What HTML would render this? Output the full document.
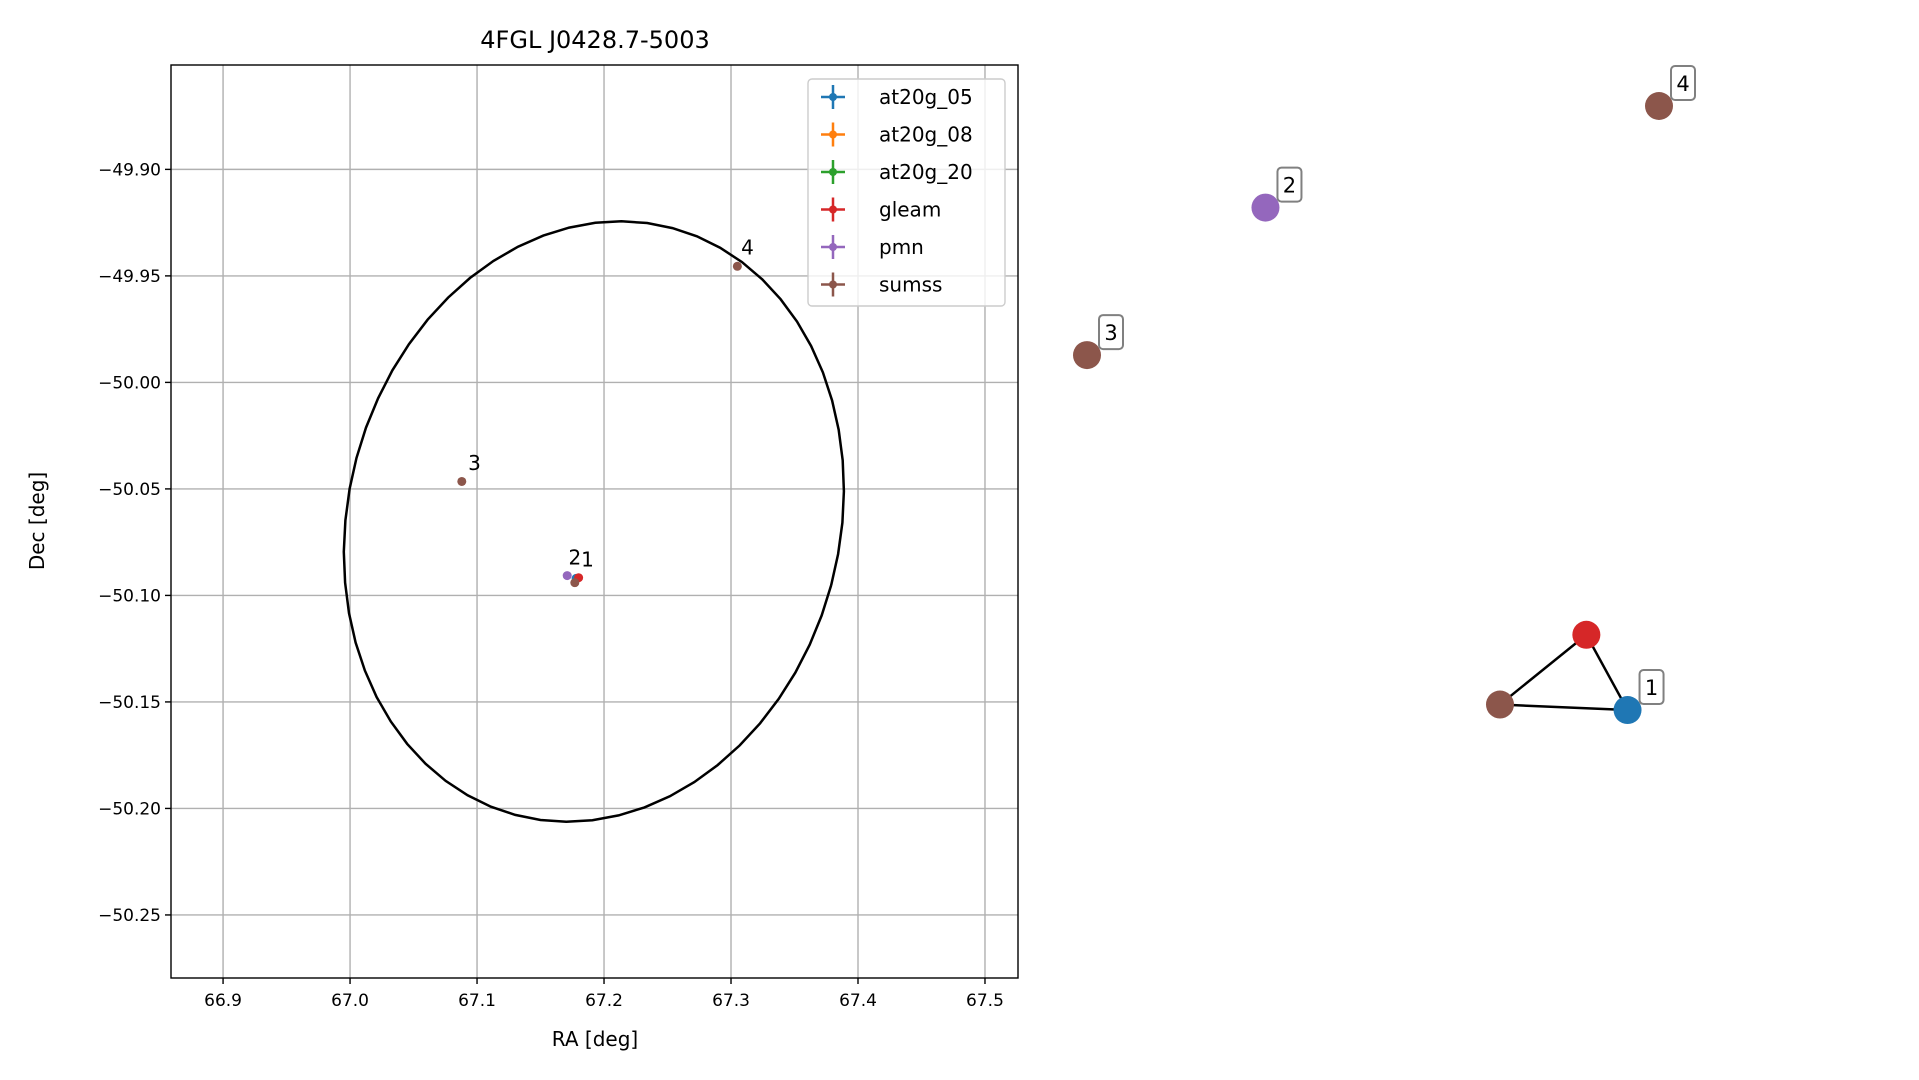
<!DOCTYPE html>
<html><head><meta charset="utf-8">
<style>
html,body{margin:0;padding:0;background:#fff;}
svg{display:block;font-family:"DejaVu Sans","Liberation Sans",sans-serif;}
</style></head>
<body>
<svg id="fig" width="1919" height="1080" viewBox="0 0 1919 1080" xmlns="http://www.w3.org/2000/svg">
<rect width="1919" height="1080" fill="#fff"/>
<g id="chart"></g>
<g id="graph"></g>
</svg>
<script>
// ---- data ----
const xTicks = [66.9, 67.0, 67.1, 67.2, 67.3, 67.4, 67.5];
const yTicks = [-49.90, -49.95, -50.00, -50.05, -50.10, -50.15, -50.20, -50.25];
const catalogs = ["at20g_05","at20g_08","at20g_20","gleam","pmn","sumss"];
const catColors = ["#1f77b4","#ff7f0e","#2ca02c","#d62728","#9467bd","#8c564b"];
const srcRA  = [67.178, 67.180, 67.171, 67.177, 67.088, 67.305];
const srcDec = [-50.092, -50.0917, -50.0907, -50.094, -50.0465, -49.9455];
const srcCat = ["at20g_05","gleam","pmn","sumss","sumss","sumss"];
const labelText = ["1","2","3","4"];
const labelRA  = [67.182, 67.172, 67.093, 67.308];
const labelDec = [-50.0865, -50.0855, -50.0412, -49.940];
const ellCenter = [67.192, -50.0653];
const ellAxes = [0.1935, 0.1426]; // deg: RA half-width, Dec half-height
const ellAngle = 15; // degrees (screen)
// graph (right panel), normalized layout coords
const nodeX = [0.866, 0.754, 0.000, 0.302, 0.927, 0.000, 1.000];
const nodeY = [0.808, 0.750, 0.000, 0.182, 0.818, 0.000, 0.000];
const nodeCat = ["gleam","sumss","at20g_05","pmn","at20g_05","sumss","sumss"];
const nodeId = ["g1","s1","x","p2","a1","s3","s4"];
const gNodeX = [0.873, 0.722, 0.945, 0.312, 0.000, 1.000];
const gNodeY = [0.864, 0.978, 0.987, 0.166, 0.407, 0.000];
const gNodeCat = ["gleam","sumss","at20g_05","pmn","sumss","sumss"];
const edgeFrom = [0, 0, 1];
const edgeTo   = [1, 2, 2];
const gLabelNode = [2, 3, 4, 5];

// ---- axes ----
const L=171,R=1018,T=65,B=978;
const xMin=66.859,xMax=67.526,yMax=-49.851,yMin=-50.2796;
const sx=v=>L+(v-xMin)/(xMax-xMin)*(R-L);
const sy=v=>T+(yMax-v)/(yMax-yMin)*(B-T);
const NS="http://www.w3.org/2000/svg";
function mk(tag,attrs,parent){const e=document.createElementNS(NS,tag);for(const k in attrs)e.setAttribute(k,attrs[k]);parent.appendChild(e);return e;}
const chart=document.getElementById('chart');
const col=c=>catColors[catalogs.indexOf(c)];

// grid
xTicks.forEach(v=>{const x=sx(v);
 const g=mk('line',{x1:x,x2:x,y1:T,y2:B,stroke:'#b0b0b0','stroke-width':1.4},chart);
 
 
 const t=mk('line',{x1:x,x2:x,y1:B,y2:B+6,stroke:'#000','stroke-width':1.4},chart);
 
 
 const l=mk('text',{x:x,y:B+28,'text-anchor':'middle','font-size':17,fill:'#000'},chart);
 l.textContent=v.toFixed(1);
 
 
});
yTicks.forEach(v=>{const y=sy(v);
 const g=mk('line',{x1:L,x2:R,y1:y,y2:y,stroke:'#b0b0b0','stroke-width':1.4},chart);
 
 
 const t=mk('line',{x1:L-6,x2:L,y1:y,y2:y,stroke:'#000','stroke-width':1.4},chart);
 
 
 const l=mk('text',{x:L-10,y:y+6,'text-anchor':'end','font-size':17,fill:'#000'},chart);
 l.textContent='\u2212'+Math.abs(v).toFixed(2);
 
 
});

// ellipse
const ecx=sx(ellCenter[0]), ecy=sy(ellCenter[1]);
const erx=sx(ellCenter[0]+ellAxes[0])-ecx, ery=sy(ellCenter[1]-ellAxes[1])-ecy;
let pts=[];const th=ellAngle*Math.PI/180;
for(let i=0;i<=60;i++){const a=i/60*2*Math.PI;const px=erx*Math.cos(a),py=ery*Math.sin(a);
 pts.push((ecx+px*Math.cos(th)-py*Math.sin(th)).toFixed(1)+','+(ecy+px*Math.sin(th)+py*Math.cos(th)).toFixed(1));}
const el=mk('polyline',{points:pts.join(' '),fill:'none',stroke:'#000','stroke-width':2.5},chart);



// sources
srcRA.forEach((ra,i)=>{
 const c=mk('circle',{cx:sx(ra),cy:sy(srcDec[i]),r:4.5,fill:col(srcCat[i])},chart);
 
 
});
labelText.forEach((t,i)=>{
 const l=mk('text',{x:sx(labelRA[i]),y:sy(labelDec[i]),'font-size':20,fill:'#000'},chart);
 l.textContent=t;
 
 
});

// frame
const fr=mk('rect',{x:L,y:T,width:R-L,height:B-T,fill:'none',stroke:'#000','stroke-width':1.4},chart);



// title & labels
let tt=mk('text',{x:595,y:48,'text-anchor':'middle','font-size':24,fill:'#000'},chart);
tt.textContent='4FGL J0428.7-5003';


let xl=mk('text',{x:595,y:1046,'text-anchor':'middle','font-size':20,fill:'#000'},chart);
xl.textContent='RA [deg]';


let yl=mk('text',{x:0,y:0,'text-anchor':'middle','font-size':20,fill:'#000',transform:'translate(44,521) rotate(-90)'},chart);
yl.textContent='Dec [deg]';



// legend
const lg=mk('g',{},chart);


mk('rect',{x:808,y:79,width:197,height:227,rx:4,fill:'#fff','fill-opacity':0.8,stroke:'#ccc','stroke-width':1.4},lg);
catalogs.forEach((c,i)=>{const y=97+i*37.5;
 const e=mk('g',{},lg);
 
 
 mk('line',{x1:821,x2:845,y1:y,y2:y,stroke:catColors[i],'stroke-width':2.5},e);
 mk('line',{x1:833,x2:833,y1:y-12,y2:y+12,stroke:catColors[i],'stroke-width':2.5},e);
 mk('circle',{cx:833,cy:y,r:4,fill:catColors[i]},e);
 const t=mk('text',{x:879,y:y+7,'font-size':20,fill:'#000'},e);t.textContent=c;
});

// ---- graph panel ----
const graph=document.getElementById('graph');
const gx=v=>1087+v*(1659-1087), gy=v=>106+v*(718-106);
edgeFrom.forEach((f,i)=>{const t=edgeTo[i];
 const e=mk('line',{x1:gx(gNodeX[f]),y1:gy(gNodeY[f]),x2:gx(gNodeX[t]),y2:gy(gNodeY[t]),stroke:'#000','stroke-width':2.5},graph);
 
 
});
gNodeX.forEach((v,i)=>{
 const c=mk('circle',{cx:gx(v),cy:gy(gNodeY[i]),r:14,fill:col(gNodeCat[i])},graph);
 
 
});
gLabelNode.forEach((n,i)=>{const cx=gx(gNodeX[n])+24, cy=gy(gNodeY[n])-23;
 const g=mk('g',{},graph);
 
 
 mk('rect',{x:cx-12,y:cy-17,width:24,height:34,rx:4,fill:'#fff',stroke:'#808080','stroke-width':2},g);
 const t=mk('text',{x:cx,y:cy+8,'text-anchor':'middle','font-size':21,fill:'#000'},g);t.textContent=labelText[i];
});
</script>
</body></html>
